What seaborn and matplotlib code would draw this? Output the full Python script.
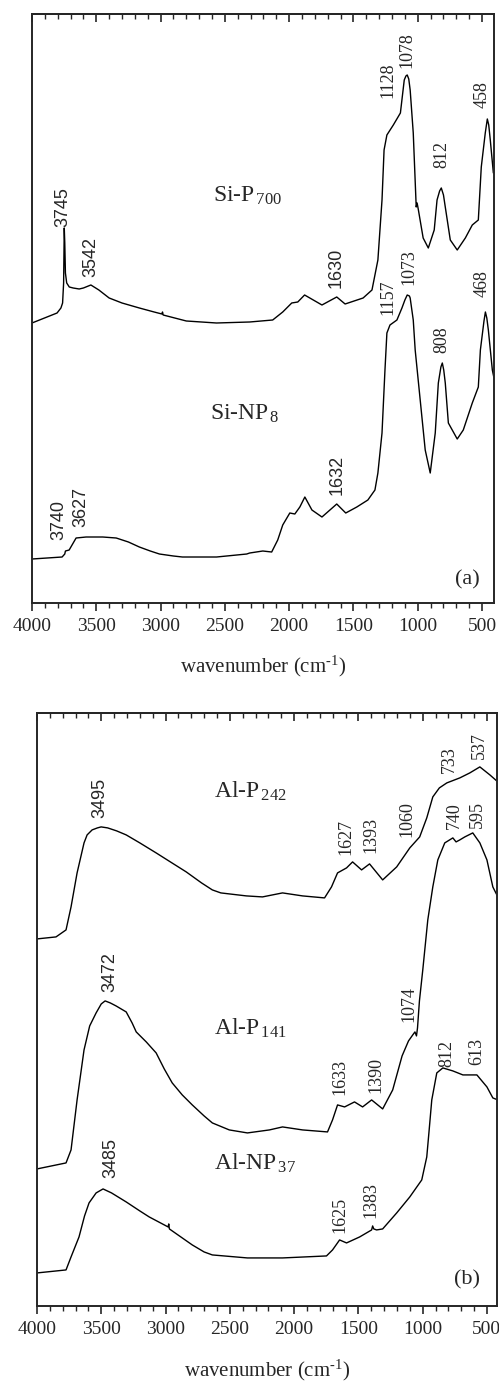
"""
FTIR spectra of the silica (a) and alumina (b) samples,
redrawn from the published figure.
"""

import pandas as pd
import seaborn as sns
import matplotlib.pyplot as plt
from matplotlib.ticker import MultipleLocator

# panel (a): absorbance in arbitrary units
si_p700_wn = [4000, 3805, 3775, 3762, 3754, 3749, 3745, 3740, 3730, 3710,
              3680, 3633, 3600, 3542, 3480, 3400, 3300, 3165, 3050, 2990,
              2985, 2980, 2800, 2565, 2307, 2128, 2050, 1980, 1933, 1880,
              1745, 1630, 1565, 1425, 1356, 1310, 1278, 1262, 1240, 1190,
              1135, 1105, 1092, 1082, 1070, 1059, 1035, 1012, 1005, 995,
              958, 918, 872, 850, 830, 817, 800, 786, 747, 693,
              630, 576, 529, 506, 475, 459, 448, 436, 412]
si_p700_abs = [280, 290, 295, 300, 320, 375, 360, 330, 320, 316,
               315, 314, 315, 318, 313, 305, 300, 295, 291, 289,
               291, 288, 282, 280, 281, 283, 291, 300, 301, 308,
               298, 306, 299, 305, 313, 343, 403, 453, 468, 478,
               490, 523, 527, 528, 524, 513, 470, 396, 400, 393,
               365, 355, 373, 403, 412, 415, 408, 396, 363, 353,
               365, 378, 383, 436, 470, 484, 478, 463, 430]

si_np8_wn = [4000, 3766, 3745, 3740, 3711, 3657, 3579, 3450, 3345, 3250,
             3165, 3080, 3009, 2900, 2830, 2565, 2330, 2307, 2205, 2136,
             2089, 2050, 1995, 1956, 1917, 1878, 1823, 1745, 1683, 1630,
             1560, 1474, 1388, 1333, 1310, 1278, 1255, 1240, 1216, 1162,
             1123, 1100, 1082, 1065, 1059, 1035, 1020, 981, 942, 903,
             864, 840, 820, 809, 798, 786, 762, 693, 646, 576,
             529, 513, 485, 474, 463, 451, 420, 404]
si_np8_abs = [44, 46, 49, 52, 53, 65, 66, 66, 65, 61,
              56, 52, 49, 47, 46, 46, 49, 50, 52, 51,
              63, 78, 90, 89, 96, 106, 93, 86, 93, 99,
              90, 96, 103, 113, 130, 170, 233, 270, 278, 283,
              295, 303, 308, 307, 305, 283, 253, 203, 153, 130,
              170, 220, 236, 240, 233, 220, 180, 164, 173, 200,
              216, 253, 282, 291, 285, 273, 233, 223]

# panel (b)
al_p242_wn = [4000, 3852, 3774, 3735, 3688, 3634, 3610, 3571, 3530, 3501,
              3450, 3380, 3306, 3200, 3073, 2950, 2839, 2720, 2636, 2570,
              2504, 2371, 2246, 2090, 1934, 1763, 1709, 1662, 1592, 1545,
              1475, 1413, 1311, 1202, 1100, 1023, 968, 921, 870, 812,
              711, 633, 555, 477, 415]
al_p242_abs = [367, 369, 376, 399, 433, 463, 471, 476, 478, 479,
               478, 475, 471, 463, 453, 443, 434, 423, 416, 413,
               412, 410, 409, 413, 410, 408, 419, 433, 438, 444,
               436, 442, 426, 439, 458, 469, 488, 509, 518, 523,
               528, 533, 539, 531, 524]

al_p141_wn = [4000, 3774, 3735, 3688, 3634, 3590, 3540, 3500, 3470, 3430,
              3385, 3306, 3260, 3228, 3150, 3073, 3010, 2948, 2870, 2792,
              2700, 2636, 2504, 2363, 2192, 2090, 1934, 1740, 1701, 1662,
              1607, 1530, 1467, 1397, 1311, 1233, 1160, 1110, 1077, 1060,
              1048, 1040, 1025, 999, 960, 921, 882, 828, 765, 740,
              711, 672, 610, 555, 500, 454, 415]
al_p141_abs = [137, 143, 156, 206, 256, 280, 293, 302, 305, 303,
               300, 294, 283, 274, 264, 253, 237, 223, 211, 201,
               190, 183, 176, 173, 176, 179, 176, 174, 186, 201,
               199, 204, 199, 206, 197, 216, 250, 265, 271, 274,
               270, 278, 305, 336, 386, 419, 446, 463, 468, 464,
               466, 469, 473, 463, 446, 419, 409]

al_np37_wn = [4000, 3774, 3735, 3673, 3630, 3595, 3540, 3486, 3420, 3306,
              3200, 3127, 2980, 2975, 2970, 2792, 2700, 2636, 2363, 2090,
              1748, 1701, 1646, 1592, 1490, 1397, 1389, 1380, 1358, 1311,
              1202, 1100, 1007, 968, 950, 929, 890, 843, 765, 687,
              578, 500, 454, 415]
al_np37_abs = [33, 36, 49, 69, 90, 103, 113, 117, 113, 104,
               95, 89, 79, 82, 77, 61, 54, 51, 48, 48,
               50, 56, 66, 63, 69, 76, 80, 77, 76, 77,
               93, 109, 126, 149, 175, 206, 233, 238, 235, 231,
               231, 219, 208, 206]

# peak labels (text, wavenumber, absorbance of the label foot)
peaks_a_text = ['3745', '3542', '1630', '1128', '1078', '812', '458',
                '3740', '3627', '1632', '1157', '1073', '808', '468']
peaks_a_wn = [3758, 3540, 1637, 1231, 1083, 810, 498,
              3789, 3618, 1629, 1231, 1067, 810, 498]
peaks_a_y = [376, 326, 315, 505, 535, 435, 495,
             63, 76, 108, 288, 318, 250, 306]

peaks_b_text = ['3495', '1627', '1393', '1060', '733', '537',
                '3472', '1074', '740', '595', '1633', '1390',
                '3485', '812', '613', '1625', '1383']
peaks_b_wn = [3509, 1599, 1404, 1124, 789, 555,
              3431, 1108, 750, 578, 1646, 1365,
              3424, 812, 578, 1646, 1404]
peaks_b_y = [488, 451, 453, 469, 533, 547,
             314, 284, 477, 478, 211, 213,
             128, 239, 241, 73, 88]

# these few labels are set in a sans face in the original
sans_labels = {'3745', '3542', '1630', '3740', '3627', '1632',
               '3495', '3472', '3485'}

# sample names: (label, wavenumber, absorbance of baseline)
names_a = [(r'Si-P$_{\rm \,700}$', 2596, 401),
           (r'Si-NP$_{\rm \,8}$', 2612, 183)]
names_b = [(r'Al-P$_{\rm \,242}$', 2620, 508),
           (r'Al-P$_{\rm \,141}$', 2620, 271),
           (r'Al-NP$_{\rm \,37}$', 2620, 136)]


def spectrum(ax, wn, absorb):
    df = pd.DataFrame({'wn': wn, 'abs': absorb})
    sns.lineplot(data=df, x='wn', y='abs', ax=ax, color='black',
                 linewidth=1.0, estimator=None)


def style_axis(ax, xlim, ylim, labelpad):
    ax.set_xlim(*xlim)
    ax.set_ylim(*ylim)
    ax.set_yticks([])
    ax.set_ylabel('')
    ax.set_xlabel(r'wavenumber (cm$^{\text{-1}}$)', fontsize=15,
                  labelpad=labelpad)
    ax.xaxis.set_major_locator(MultipleLocator(500))
    ax.xaxis.set_minor_locator(MultipleLocator(100))
    ax.tick_params(axis='x', which='major', direction='out', length=6,
                   width=1.2, labelsize=14, pad=5)
    ax.tick_params(axis='x', which='minor', direction='out', length=3.5,
                   width=1.0)
    for sp in ax.spines.values():
        sp.set_linewidth(1.4)
        sp.set_visible(True)
    top = ax.secondary_xaxis('top')
    top.xaxis.set_major_locator(MultipleLocator(500))
    top.xaxis.set_minor_locator(MultipleLocator(100))
    top.tick_params(axis='x', which='major', direction='in', length=6,
                    width=1.2, labeltop=False)
    top.tick_params(axis='x', which='minor', direction='in', length=3.5,
                    width=1.0)
    top.spines['top'].set_linewidth(1.4)


def peak_labels(ax, texts, wns, ys):
    for t, w, y in zip(texts, wns, ys):
        fam = 'Liberation Sans' if t in sans_labels else 'Liberation Serif'
        ax.text(w, y, t, rotation=90, ha='center', va='bottom',
                fontsize=13, family=fam)


def main():
    sns.set_style('ticks')
    plt.rcParams['font.family'] = ['Liberation Serif', 'DejaVu Serif']
    plt.rcParams['mathtext.fontset'] = 'custom'
    plt.rcParams['mathtext.rm'] = 'Liberation Serif'
    plt.rcParams['mathtext.it'] = 'Liberation Serif:italic'

    fig = plt.figure(figsize=(4.99, 13.84), dpi=100)
    ax_a = fig.add_axes([0.0641, 0.5643, 0.9259, 0.4256])
    ax_b = fig.add_axes([0.0741, 0.0564, 0.9218, 0.4285])

    # panel (a)
    spectrum(ax_a, si_p700_wn, si_p700_abs)
    spectrum(ax_a, si_np8_wn, si_np8_abs)
    style_axis(ax_a, (4000, 407), (0, 589), 13)
    peak_labels(ax_a, peaks_a_text, peaks_a_wn, peaks_a_y)
    for name, w, y in names_a:
        ax_a.text(w, y, name, fontsize=17, ha='left', va='baseline')
    ax_a.text(615, 23, '(a)', fontsize=16, ha='center', va='center')

    # panel (b)
    spectrum(ax_b, al_p242_wn, al_p242_abs)
    spectrum(ax_b, al_p141_wn, al_p141_abs)
    spectrum(ax_b, al_np37_wn, al_np37_abs)
    style_axis(ax_b, (4000, 422), (0, 593), 14)
    peak_labels(ax_b, peaks_b_text, peaks_b_wn, peaks_b_y)
    for name, w, y in names_b:
        ax_b.text(w, y, name, fontsize=17, ha='left', va='baseline')
    ax_b.text(656, 26, '(b)', fontsize=16, ha='center', va='center')

    fig.savefig('out.png', dpi=100)


if __name__ == '__main__':
    main()
